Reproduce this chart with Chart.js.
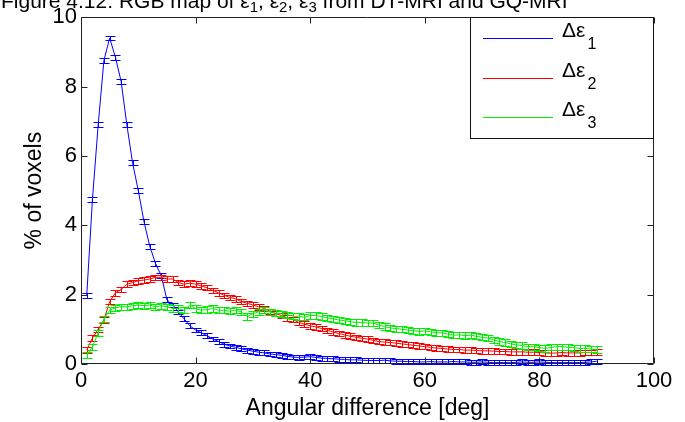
<!DOCTYPE html>
<html>
<head>
<meta charset="utf-8">
<script src="https://cdn.jsdelivr.net/npm/chart.js@4.4.1/dist/chart.umd.min.js"></script>
<style>
html, body { margin: 0; padding: 0; background: #fff; }
#chart { display: block; }
</style>
</head>
<body>
<canvas id="chart" width="685" height="422"></canvas>
<script>
// angle bins in degrees
var angles = [1,2,3,4,5,6,7,8,9,10,11,12,13,14,15,16,17,18,19,20,
  21,22,23,24,25,26,27,28,29,30,31,32,33,34,35,36,37,38,39,40,
  41,42,43,44,45,46,47,48,49,50,51,52,53,54,55,56,57,58,59,60,
  61,62,63,64,65,66,67,68,69,70,71,72,73,74,75,76,77,78,79,80,
  81,82,83,84,85,86,87,88,89,90];

// % of voxels
var eps1 = [1.97,4.75,6.9,8.75,9.4,8.85,8.15,6.9,5.8,5.0,4.1,3.4,2.9,2.55,1.85,1.7,1.5,1.3,1.1,0.98,
  0.9,0.82,0.72,0.65,0.57,0.52,0.48,0.44,0.4,0.37,0.34,0.32,0.29,0.27,0.25,0.22,0.2,0.19,0.2,0.21,
  0.19,0.17,0.16,0.15,0.14,0.13,0.12,0.12,0.11,0.1,0.1,0.1,0.11,0.09,0.08,0.08,0.07,0.07,0.06,0.06,
  0.07,0.06,0.06,0.06,0.07,0.06,0.06,0.05,0.05,0.06,0.05,0.04,0.04,0.04,0.04,0.05,0.06,0.05,0.05,0.06,
  0.05,0.04,0.04,0.04,0.04,0.04,0.04,0.05,0.06,0.08];
var eps2 = [0.4,0.75,1.0,1.27,1.8,2.05,2.15,2.3,2.35,2.4,2.42,2.45,2.5,2.5,2.45,2.45,2.35,2.3,2.33,2.3,
  2.25,2.2,2.12,2.05,1.98,1.92,1.88,1.8,1.75,1.7,1.65,1.6,1.52,1.45,1.4,1.33,1.28,1.2,1.15,1.1,
  1.07,1.02,0.97,0.92,0.88,0.84,0.8,0.77,0.74,0.72,0.68,0.65,0.63,0.62,0.6,0.58,0.56,0.54,0.52,0.5,
  0.48,0.46,0.45,0.43,0.42,0.42,0.4,0.4,0.39,0.38,0.38,0.37,0.36,0.36,0.35,0.35,0.35,0.34,0.34,0.33,
  0.32,0.31,0.32,0.33,0.32,0.32,0.32,0.33,0.33,0.34];
var eps3 = [0.25,0.5,0.9,1.3,1.55,1.62,1.65,1.65,1.68,1.7,1.68,1.7,1.65,1.68,1.65,1.6,1.6,1.55,1.7,1.6,
  1.55,1.57,1.6,1.55,1.55,1.52,1.55,1.5,1.37,1.45,1.5,1.55,1.5,1.47,1.45,1.42,1.38,1.37,1.35,1.4,
  1.4,1.37,1.33,1.3,1.27,1.25,1.22,1.2,1.2,1.18,1.18,1.12,1.08,1.04,1.02,1.0,0.98,0.96,0.94,0.95,
  0.93,0.9,0.9,0.86,0.83,0.84,0.82,0.83,0.8,0.77,0.75,0.7,0.65,0.62,0.58,0.55,0.53,0.5,0.5,0.47,
  0.45,0.48,0.5,0.5,0.48,0.47,0.45,0.45,0.43,0.42];

// half-height of the error bars
var err1 = 0.07, err2 = 0.08, err3 = 0.09;

var seriesSubs = ['1', '2', '3'];
var xTicks = [0, 20, 40, 60, 80, 100];
var yTicks = [0, 2, 4, 6, 8, 10];

var FONT = "'Liberation Sans', Arial, Helvetica, sans-serif";
var colors = ['#0000ff', '#ff0000', '#00ee00'];

function pts(vals) {
  return angles.map(function(a, i) { return { x: a, y: vals[i] }; });
}

// error bars drawn right after each line so the layering follows the lines
var errorBars = {
  id: 'errorBars',
  afterDatasetDraw: function(chart, args) {
    var ds = chart.data.datasets[args.index];
    var ys = chart.scales.y;
    var ctx = chart.ctx;
    ctx.save();
    ctx.strokeStyle = ds.borderColor;
    ctx.lineWidth = 1;
    ctx.beginPath();
    args.meta.data.forEach(function(p, i) {
      var v = ds.data[i].y;
      var y1 = Math.round(ys.getPixelForValue(v + ds.err)) + 0.5;
      var y2 = Math.round(ys.getPixelForValue(v - ds.err)) + 0.5;
      var x = Math.round(p.x) + 0.5;
      ctx.moveTo(x, y1); ctx.lineTo(x, y2);
      ctx.moveTo(x - 5, y1); ctx.lineTo(x + 5, y1);
      ctx.moveTo(x - 5, y2); ctx.lineTo(x + 5, y2);
    });
    ctx.stroke();
    ctx.restore();
  }
};

// matlab style box, inward ticks, legend and the clipped caption on top
var frame = {
  id: 'frame',
  afterDraw: function(chart) {
    var ctx = chart.ctx, a = chart.chartArea;
    var xs = chart.scales.x, ys = chart.scales.y;
    var L = Math.round(a.left) + 0.5, R = Math.round(a.right) - 0.5;
    var T = Math.round(a.top) + 0.5, B = Math.round(a.bottom) - 0.5;
    ctx.save();
    ctx.strokeStyle = '#222';
    ctx.lineWidth = 1;
    ctx.beginPath();
    ctx.rect(L, T, R - L, B - T);
    xTicks.forEach(function(v) {
      var x = Math.round(xs.getPixelForValue(v)) + 0.5;
      ctx.moveTo(x, B); ctx.lineTo(x, B - 6);
      ctx.moveTo(x, T); ctx.lineTo(x, T + 6);
    });
    yTicks.forEach(function(v) {
      var y = Math.round(ys.getPixelForValue(v)) + 0.5;
      ctx.moveTo(L, y); ctx.lineTo(L + 6, y);
      ctx.moveTo(R, y); ctx.lineTo(R - 6, y);
    });
    ctx.stroke();

    // legend
    var lx = 470.5, ly = T, lw = R - 470.5, lh = 121;
    ctx.fillStyle = '#fff';
    ctx.fillRect(lx, ly, lw, lh);
    ctx.strokeStyle = '#111';
    ctx.strokeRect(lx, ly, lw, lh);
    chart.data.datasets.forEach(function(ds, i) {
      var y = [38.5, 78.5, 117.5][i];
      ctx.strokeStyle = ds.borderColor;
      ctx.beginPath();
      ctx.moveTo(483, y); ctx.lineTo(553, y);
      ctx.stroke();
      ctx.fillStyle = '#000';
      ctx.textBaseline = 'alphabetic';
      ctx.textAlign = 'left';
      ctx.font = '21px ' + FONT;
      ctx.fillText('\u0394\u03b5', 562, y - 2);
      var w = ctx.measureText('\u0394\u03b5').width;
      ctx.font = '16px ' + FONT;
      ctx.fillText(seriesSubs[i], 562 + w + 2, y + 10);
    });

    // caption of the page above, cut by the top edge
    var parts = [['Figure 4.12: RGB map of \u03b5', 0], ['1', 1], [', \u03b5', 0], ['2', 1],
      [', \u03b5', 0], ['3', 1], [' from DT-MRI and GQ-MRI', 0]];
    var cx = 1;
    ctx.fillStyle = '#000';
    parts.forEach(function(p) {
      ctx.font = (p[1] ? '15px ' : '21px ') + FONT;
      ctx.fillText(p[0], cx, p[1] ? 12 : 8);
      cx += ctx.measureText(p[0]).width;
    });
    ctx.restore();
  }
};

new Chart(document.getElementById('chart'), {
  type: 'line',
  data: {
    datasets: [
      { label: '\u0394\u03b51', data: pts(eps1), err: err1, borderColor: colors[0], order: 3 },
      { label: '\u0394\u03b52', data: pts(eps2), err: err2, borderColor: colors[1], order: 2 },
      { label: '\u0394\u03b53', data: pts(eps3), err: err3, borderColor: colors[2], order: 1 }
    ]
  },
  options: {
    responsive: false,
    animation: false,
    devicePixelRatio: 1,
    layout: { padding: { top: 17, right: 31, left: 0, bottom: 0 } },
    elements: {
      line: { borderWidth: 1, tension: 0, fill: false },
      point: { radius: 0, hoverRadius: 0 }
    },
    plugins: { legend: { display: false }, tooltip: { enabled: false } },
    scales: {
      x: {
        type: 'linear', min: 0, max: 100,
        afterBuildTicks: function(s) { s.ticks = xTicks.map(function(v) { return { value: v }; }); },
        ticks: { color: '#000', font: { family: FONT, size: 22 }, padding: 4, maxRotation: 0, autoSkip: false },
        grid: { display: false, drawTicks: false },
        border: { display: false },
        title: { display: true, text: 'Angular difference [deg]', color: '#000',
          font: { family: FONT, size: 23 }, padding: 0 },
        afterFit: function(s) { s.height = 58; }
      },
      y: {
        type: 'linear', min: 0, max: 10,
        afterBuildTicks: function(s) { s.ticks = yTicks.map(function(v) { return { value: v }; }); },
        ticks: { color: '#000', font: { family: FONT, size: 22 }, padding: 4, autoSkip: false },
        grid: { display: false, drawTicks: false },
        border: { display: false },
        title: { display: true, text: '% of voxels', color: '#000',
          font: { family: FONT, size: 23 }, padding: { top: 21, bottom: 0 } },
        afterFit: function(s) { s.width = 81; }
      }
    }
  },
  plugins: [errorBars, frame]
});
</script>
</body>
</html>
